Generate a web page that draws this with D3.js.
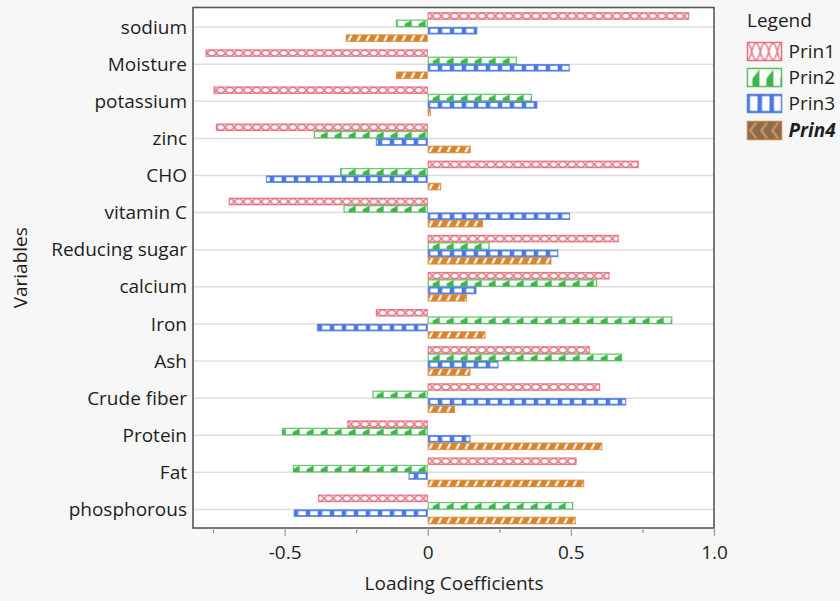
<!DOCTYPE html>
<html>
<head>
<meta charset="utf-8">
<script src="https://cdn.jsdelivr.net/npm/d3@7"></script>
<style>
  html, body { margin: 0; padding: 0; background: #f7f7f7; }
  svg { display: block; }
  text { font-family: "Open Sans", "Noto Sans", sans-serif; fill: #1e1e1e; }
</style>
</head>
<body>
<svg id="chart" width="840" height="601"></svg>
<script>
// ---------------- data ----------------
const categories = ["sodium","Moisture","potassium","zinc","CHO","vitamin C","Reducing sugar",
  "calcium","Iron","Ash","Crude fiber","Protein","Fat","phosphorous"];
const seriesNames = ["Prin1","Prin2","Prin3","Prin4"];
const prin1 = [0.913,-0.776,-0.748,-0.740,0.737,-0.695,0.667,0.635,-0.181,0.566,0.602,-0.281,0.520,-0.383];
const prin2 = [-0.111,0.311,0.364,-0.398,-0.306,-0.294,0.216,0.592,0.854,0.679,-0.193,-0.509,-0.471,0.508];
const prin3 = [0.173,0.496,0.383,-0.181,-0.565,0.497,0.456,0.170,-0.387,0.247,0.693,0.149,-0.067,-0.468];
const prin4 = [-0.286,-0.111,0.011,0.150,0.047,0.193,0.432,0.137,0.202,0.149,0.095,0.610,0.546,0.517];
const majorTicks = [-0.5, 0, 0.5, 1.0];
const majorTickLabels = ["-0.5", "0", "0.5", "1.0"];
const minorTicks = [-0.75, -0.25, 0.25, 0.75];

const seriesValues = [prin1, prin2, prin3, prin4];
const colors = ["#e05a6c", "#3db54a", "#4a78e0", "#d7842f"];
const FONT = 19;

// ---------------- layout ----------------
const svg = d3.select("#chart");
const plot = { left: 193, right: 714, top: 7.5, bottom: 528 };

const x = d3.scaleLinear().domain([-0.82, 1.0]).range([plot.left, plot.right]);
const y = d3.scalePoint().domain(categories).range([plot.top + 1, plot.bottom]).padding(0.5);
const barH = y.step() * 0.199;

const defs = svg.append("defs");

function makePatterns(suffix, h, P1) {
  // Prin1: crossing waves (X / O)
  const p1 = defs.append("pattern").attr("id", "p1" + suffix)
    .attr("patternUnits", "userSpaceOnUse").attr("width", P1).attr("height", h);
  p1.append("rect").attr("width", P1).attr("height", h).attr("fill", "#fff");
  p1.append("path")
    .attr("d", `M0,0.6 C${P1*0.25},0.6 ${P1*0.25},${h-0.6} ${P1/2},${h-0.6} C${P1*0.75},${h-0.6} ${P1*0.75},0.6 ${P1},0.6
                M0,${h-0.6} C${P1*0.25},${h-0.6} ${P1*0.25},0.6 ${P1/2},0.6 C${P1*0.75},0.6 ${P1*0.75},${h-0.6} ${P1},${h-0.6}`)
    .attr("fill", "none").attr("stroke", colors[0]).attr("stroke-width", 1.6).attr("stroke-opacity", 0.8);

  // Prin2: small triangles
  const P2 = 14;
  const p2 = defs.append("pattern").attr("id", "p2" + suffix)
    .attr("patternUnits", "userSpaceOnUse").attr("width", P2).attr("height", h);
  p2.append("rect").attr("width", P2).attr("height", h).attr("fill", "#fff");
  p2.append("path")
    .attr("d", `M${P2*0.35},${h*0.55} L${P2*0.85},${h*0.05} L${P2*0.85},${h} L${P2*0.35},${h} Z`)
    .attr("fill", colors[1]);

  // Prin3: squares separated by vertical bars
  const P3 = 12;
  const p3 = defs.append("pattern").attr("id", "p3" + suffix)
    .attr("patternUnits", "userSpaceOnUse").attr("width", P3).attr("height", h);
  p3.append("rect").attr("width", P3).attr("height", h).attr("fill", colors[2]);
  p3.append("rect").attr("x", 2.5).attr("y", 1.6).attr("width", P3 - 4.5).attr("height", Math.max(0, h - 3.2)).attr("fill", "#fff");

  // Prin4: diagonal stripes
  const P4 = 9;
  const p4 = defs.append("pattern").attr("id", "p4" + suffix)
    .attr("patternUnits", "userSpaceOnUse").attr("width", P4).attr("height", h);
  p4.append("rect").attr("width", P4).attr("height", h).attr("fill", colors[3]);
  p4.append("path")
    .attr("d", `M${P4*0.15},${h} L${P4*0.55},0`)
    .attr("stroke", "#fff").attr("stroke-width", 2.2).attr("fill", "none");
}
makePatterns("", barH, 18);

// legend patterns (taller)
const legH = 18;
makePatterns("L", legH, 17);
// special selected pattern for Prin4 legend (chevrons on brown)
(function () {
  const P = 11;
  const p = defs.append("pattern").attr("id", "p4sel")
    .attr("patternUnits", "userSpaceOnUse").attr("width", P).attr("height", legH);
  p.append("rect").attr("width", P).attr("height", legH).attr("fill", "#8c6a4c");
  p.append("path").attr("d", `M${P*0.8},1 L${P*0.25},${legH/2} L${P*0.8},${legH-1}`)
    .attr("fill", "none").attr("stroke", "#c9955e").attr("stroke-width", 2.4);
})();

// plot background
svg.append("rect").attr("x", plot.left).attr("y", plot.top)
  .attr("width", plot.right - plot.left).attr("height", plot.bottom - plot.top).attr("fill", "#fff");

// gridlines
svg.append("g").selectAll("line").data(categories).join("line")
  .attr("x1", plot.left).attr("x2", plot.right)
  .attr("y1", d => y(d)).attr("y2", d => y(d))
  .attr("stroke", "#dedede").attr("stroke-width", 1.5);

// bars
const barData = [];
categories.forEach((c, i) => {
  seriesValues.forEach((vals, s) => {
    barData.push({ cat: c, s: s, v: vals[i] });
  });
});

const bars = svg.append("g").selectAll("g").data(barData).join("g")
  .attr("transform", d => `translate(${x(0)},${y(d.cat) + (d.s - 2) * barH})`);
bars.append("rect")
  .attr("x", d => Math.min(x(d.v), x(0)) - x(0) + 0.5)
  .attr("y", 0.5)
  .attr("width", d => Math.max(0, Math.abs(x(d.v) - x(0)) - 1))
  .attr("height", barH - 1)
  .attr("fill", d => `url(#p${d.s + 1})`)
  .attr("stroke", d => colors[d.s])
  .attr("stroke-opacity", 0.75)
  .attr("stroke-width", 1.3);

// frame
svg.append("rect").attr("x", plot.left).attr("y", plot.top)
  .attr("width", plot.right - plot.left).attr("height", plot.bottom - plot.top)
  .attr("fill", "none").attr("stroke", "#555").attr("stroke-width", 1.6);

// x axis
const xAxisG = svg.append("g").attr("transform", `translate(0,${plot.bottom})`);
xAxisG.call(d3.axisBottom(x).tickValues(majorTicks).tickSize(8).tickSizeOuter(0)
  .tickFormat((d, i) => majorTickLabels[i]));
xAxisG.select(".domain").remove();
xAxisG.selectAll(".tick line").attr("stroke", "#999").attr("stroke-width", 1.2);
xAxisG.selectAll(".tick text").attr("font-size", FONT).attr("dy", "1.05em").attr("fill", "#1e1e1e")
  .style("font-family", '"Open Sans", "Noto Sans", sans-serif');
const minorG = svg.append("g").attr("transform", `translate(0,${plot.bottom})`);
minorG.call(d3.axisBottom(x).tickValues(minorTicks).tickSize(5).tickFormat(""));
minorG.select(".domain").remove();
minorG.selectAll(".tick line").attr("stroke", "#999").attr("stroke-width", 1.2);

// y axis
const yAxisG = svg.append("g").attr("transform", `translate(${plot.left},0)`);
yAxisG.call(d3.axisLeft(y).tickSize(0).tickPadding(6));
yAxisG.select(".domain").remove();
yAxisG.selectAll(".tick text").attr("font-size", FONT).attr("fill", "#1e1e1e")
  .style("font-family", '"Open Sans", "Noto Sans", sans-serif');

// axis titles
svg.append("text").attr("x", (plot.left + plot.right) / 2 + 0.5).attr("y", 590)
  .attr("text-anchor", "middle").attr("font-size", FONT).text("Loading Coefficients");
svg.append("text").attr("transform", `translate(27,${(plot.top + plot.bottom) / 2}) rotate(-90)`)
  .attr("text-anchor", "middle").attr("font-size", FONT).text("Variables");

// legend
const leg = svg.append("g").attr("transform", "translate(747,0)");
leg.append("text").attr("x", 0).attr("y", 27).attr("font-size", FONT).text("Legend");
const legRows = [42, 68, 94, 121];
seriesNames.forEach((name, i) => {
  const g = leg.append("g").attr("transform", `translate(0.5,${legRows[i] + 0.5})`);
  g.append("rect").attr("width", 34).attr("height", legH)
    .attr("fill", i === 3 ? "url(#p4sel)" : `url(#p${i + 1}L)`)
    .attr("stroke", i === 3 ? "#c37a34" : colors[i]).attr("stroke-width", 1.5).attr("stroke-opacity", 0.85);
  g.append("text").attr("x", 41).attr("y", legH / 2).attr("dy", "0.36em")
    .attr("font-size", FONT)
    .attr("font-weight", i === 3 ? "bold" : "normal")
    .attr("font-style", i === 3 ? "italic" : "normal")
    .text(name);
});
</script>
</body>
</html>
